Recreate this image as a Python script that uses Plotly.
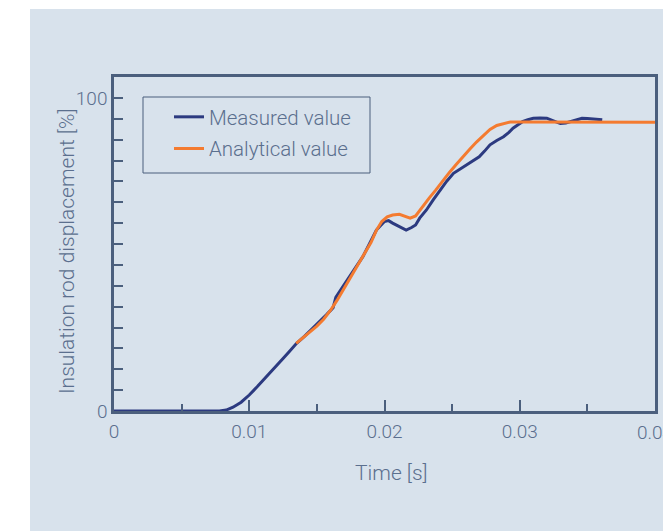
import plotly.graph_objects as go

# ---- data ----
time_measured = [0, 0.0078, 0.0083, 0.0088, 0.0094, 0.0100, 0.0106, 0.0113, 0.0119, 0.0125,
                 0.0130, 0.0135, 0.0141, 0.0147, 0.0152, 0.0157, 0.0162, 0.0164, 0.0169, 0.0174,
                 0.0179, 0.0184, 0.0189, 0.0194, 0.0200, 0.0203, 0.0206, 0.0211, 0.0216, 0.0220,
                 0.0223, 0.0226, 0.0231, 0.0236, 0.0241, 0.0246, 0.0251, 0.0257, 0.0263, 0.0270,
                 0.0274, 0.0278, 0.0283, 0.0288, 0.0292, 0.0295, 0.0299, 0.0302, 0.0306, 0.0310,
                 0.0315, 0.0320, 0.0324, 0.0330, 0.0334, 0.0338, 0.0342, 0.0346, 0.0350, 0.0355,
                 0.0361]
disp_measured = [0, 0, 0.3, 1.2, 2.8, 5.1, 7.8, 11.0, 13.8, 16.8,
                 19.2, 21.6, 23.9, 26.4, 28.5, 30.7, 33.0, 36.3, 39.6, 42.9,
                 46.0, 49.3, 53.5, 57.8, 60.5, 60.8, 60.0, 59.0, 57.8, 58.6,
                 59.4, 61.6, 64.2, 67.4, 70.6, 73.4, 75.9, 77.6, 79.1, 81.2,
                 83.0, 85.0, 86.4, 87.6, 89.0, 90.3, 91.5, 92.4, 93.0, 93.5,
                 93.6, 93.5, 92.8, 91.8, 92.0, 92.5, 93.2, 93.5, 93.4, 93.3,
                 93.0]

time_analytical = [0.01347, 0.0140, 0.0145, 0.0150, 0.0155, 0.0160, 0.0165, 0.0170, 0.0175, 0.0180,
                   0.0185, 0.0190, 0.0194, 0.0198, 0.0202, 0.0206, 0.0211, 0.0215, 0.0219, 0.0223,
                   0.0228, 0.0233, 0.0238, 0.0243, 0.0248, 0.0253, 0.0258, 0.0263, 0.0268, 0.0273,
                   0.0278, 0.0283, 0.0288, 0.0293, 0.0300, 0.0320, 0.0340, 0.0360, 0.0380, 0.0400]
disp_analytical = [21.6, 23.5, 25.4, 27.1, 29.3, 32.1, 35.4, 39.0, 42.6, 46.2,
                   49.9, 53.8, 57.7, 60.5, 62.0, 62.6, 62.8, 62.2, 61.6, 62.3,
                   65.3, 68.0, 70.6, 73.6, 76.2, 78.7, 81.3, 83.6, 85.9, 88.0,
                   89.9, 91.2, 91.8, 92.3, 92.3, 92.3, 92.2, 92.2, 92.2, 92.2]

series_names = ["Measured value", "Analytical value"]
x_tick_vals = [0, 0.01, 0.02, 0.03, 0.04]
x_tick_text = ["0", "0.01", "0.02", "0.03", "0.04"]
y_tick_text = ["0"] + [""] * 14 + ["100"]
y_tick_vals = [i * 100 / 15 for i in range(len(y_tick_text))]

NAVY = "#2c3a80"
ORANGE = "#f47b30"
AXIS = "#4b5f7d"
TEXT = "#5b6f8e"
PANEL = "#d8e2ec"
FONT = "Roboto"

fig = go.Figure()
fig.add_trace(go.Scatter(x=time_measured, y=disp_measured, mode="lines", name=series_names[0],
                         legendgroup="m", line=dict(color=NAVY, width=3)))
fig.add_trace(go.Scatter(x=time_analytical, y=disp_analytical, mode="lines", name=series_names[1],
                         legendgroup="a", line=dict(color=ORANGE, width=3)))

# page body has an 8px margin; figure is sized to fill the rest of the window
OFF = 8
W, H = 671 - OFF, 531 - OFF
PL, PR, PT, PB = 114, 655, 77, 411          # plot box in window pixels
L, R, T, B = PL - OFF, W - (PR - OFF), PT - OFF, H - (PB - OFF)
pw, ph = W - L - R, H - T - B

def px_x(p):
    return (p - OFF - L) / pw

def px_y(p):
    return (H - B - (p - OFF)) / ph

fig.update_layout(
    width=W, height=H, autosize=False,
    margin=dict(l=L, r=R, t=T, b=B, pad=0, autoexpand=False),
    paper_bgcolor="white", plot_bgcolor="white",
    font=dict(family=FONT, size=19, color=TEXT, weight=300),
    showlegend=True,
    legend=dict(x=px_x(169), y=px_y(97), xanchor="left", yanchor="top",
                bgcolor="rgba(0,0,0,0)", borderwidth=0, tracegroupgap=2,
                font=dict(family=FONT, size=20.5, color=TEXT, weight=300)),
    xaxis=dict(range=[0, 0.04], tickvals=x_tick_vals[:-1], ticktext=x_tick_text[:-1],
               ticks="inside", ticklen=11, tickwidth=1.5, tickcolor=AXIS,
               minor=dict(dtick=0.005, ticks="inside", ticklen=7, tickwidth=1.5, tickcolor=AXIS),
               showline=True, linecolor=AXIS, linewidth=2.5, mirror=True,
               showgrid=False, zeroline=False, ticklabelstandoff=1, automargin=False,
               tickfont=dict(size=19, color=TEXT)),
    yaxis=dict(range=[0, 16 * 100 / 15], tickvals=y_tick_vals, ticktext=y_tick_text,
               ticks="inside", ticklen=9, tickwidth=1.5, tickcolor=AXIS,
               showline=True, linecolor=AXIS, linewidth=2.5, mirror=True,
               showgrid=False, zeroline=False, ticklabelstandoff=0, automargin=False,
               tickfont=dict(size=19, color=TEXT)),
    shapes=[
        dict(type="rect", xref="paper", yref="paper", layer="below",
             x0=px_x(30), x1=px_x(700), y0=px_y(560), y1=px_y(9),
             fillcolor=PANEL, line=dict(width=0)),
        dict(type="rect", xref="paper", yref="paper", layer="above",
             x0=px_x(143), x1=px_x(370), y0=px_y(173), y1=px_y(97),
             fillcolor="rgba(0,0,0,0)", line=dict(color=AXIS, width=1)),
    ],
    annotations=[
        # last x tick label, cut by the right edge of the window as in the original
        dict(text=x_tick_text[-1], xref="x", yref="paper", x=x_tick_vals[-1], y=px_y(432),
             xanchor="center", yanchor="middle", showarrow=False,
             font=dict(size=19, color=TEXT)),
        dict(text="Time [s]", xref="paper", yref="paper", x=px_x(391), y=px_y(473),
             xanchor="center", yanchor="middle", showarrow=False,
             font=dict(size=21, color=TEXT)),
        dict(text="Insulation rod displacement [%]", xref="paper", yref="paper",
             x=px_x(67), y=px_y(252), textangle=-90,
             xanchor="center", yanchor="middle", showarrow=False,
             font=dict(size=21, color=TEXT)),
    ],
)

fig.write_html("out.html")
